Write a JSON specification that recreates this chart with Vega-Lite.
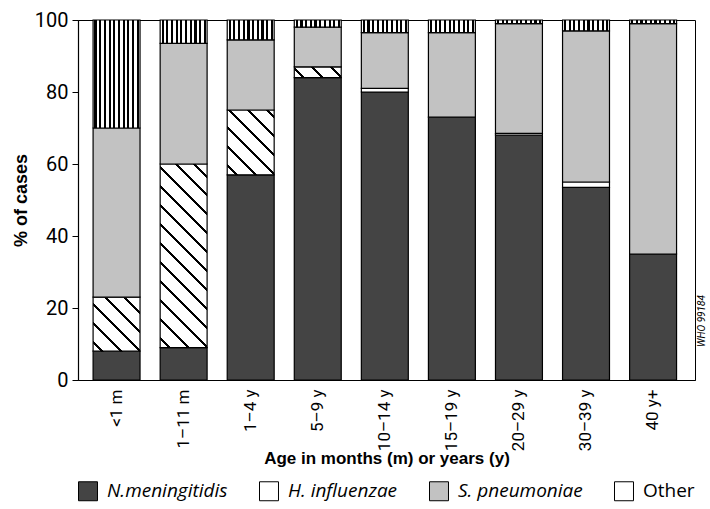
{
  "$schema": "https://vega.github.io/schema/vega-lite/v6.json",
  "width": 617,
  "height": 360,
  "padding": {"left": 12, "top": 10, "right": 5, "bottom": 5},
  "background": "white",
  "config": {
    "view": {"stroke": "black", "strokeWidth": 1},
    "font": "Liberation Sans"
  },
  "title": {
    "text": "WHO 99184",
    "orient": "right",
    "anchor": "end",
    "align": "left",
    "angle": -90,
    "dx": 33,
    "frame": "group",
    "offset": -8,
    "font": "Roboto",
    "fontSize": 10,
    "fontStyle": "italic",
    "fontWeight": "normal",
    "color": "black"
  },
  "data": {
    "values": [
      {"age": "<1 m", "pathogen": "N.meningitidis", "k": 1, "pct": 8},
      {"age": "<1 m", "pathogen": "H. influenzae", "k": 2, "pct": 15},
      {"age": "<1 m", "pathogen": "S. pneumoniae", "k": 3, "pct": 47},
      {"age": "<1 m", "pathogen": "Other", "k": 4, "pct": 30},
      {"age": "1–11 m", "pathogen": "N.meningitidis", "k": 1, "pct": 9},
      {"age": "1–11 m", "pathogen": "H. influenzae", "k": 2, "pct": 51},
      {"age": "1–11 m", "pathogen": "S. pneumoniae", "k": 3, "pct": 33.5},
      {"age": "1–11 m", "pathogen": "Other", "k": 4, "pct": 6.5},
      {"age": "1–4 y", "pathogen": "N.meningitidis", "k": 1, "pct": 57},
      {"age": "1–4 y", "pathogen": "H. influenzae", "k": 2, "pct": 18},
      {"age": "1–4 y", "pathogen": "S. pneumoniae", "k": 3, "pct": 19.5},
      {"age": "1–4 y", "pathogen": "Other", "k": 4, "pct": 5.5},
      {"age": "5–9 y", "pathogen": "N.meningitidis", "k": 1, "pct": 84},
      {"age": "5–9 y", "pathogen": "H. influenzae", "k": 2, "pct": 3},
      {"age": "5–9 y", "pathogen": "S. pneumoniae", "k": 3, "pct": 11},
      {"age": "5–9 y", "pathogen": "Other", "k": 4, "pct": 2},
      {"age": "10–14 y", "pathogen": "N.meningitidis", "k": 1, "pct": 80},
      {"age": "10–14 y", "pathogen": "H. influenzae", "k": 2, "pct": 1},
      {"age": "10–14 y", "pathogen": "S. pneumoniae", "k": 3, "pct": 15.5},
      {"age": "10–14 y", "pathogen": "Other", "k": 4, "pct": 3.5},
      {"age": "15–19 y", "pathogen": "N.meningitidis", "k": 1, "pct": 73},
      {"age": "15–19 y", "pathogen": "S. pneumoniae", "k": 3, "pct": 23.5},
      {"age": "15–19 y", "pathogen": "Other", "k": 4, "pct": 3.5},
      {"age": "20–29 y", "pathogen": "N.meningitidis", "k": 1, "pct": 68},
      {"age": "20–29 y", "pathogen": "H. influenzae", "k": 2, "pct": 0.5},
      {"age": "20–29 y", "pathogen": "S. pneumoniae", "k": 3, "pct": 30.5},
      {"age": "20–29 y", "pathogen": "Other", "k": 4, "pct": 1},
      {"age": "30–39 y", "pathogen": "N.meningitidis", "k": 1, "pct": 53.5},
      {"age": "30–39 y", "pathogen": "H. influenzae", "k": 2, "pct": 1.5},
      {"age": "30–39 y", "pathogen": "S. pneumoniae", "k": 3, "pct": 42},
      {"age": "30–39 y", "pathogen": "Other", "k": 4, "pct": 3},
      {"age": "40 y+", "pathogen": "N.meningitidis", "k": 1, "pct": 35},
      {"age": "40 y+", "pathogen": "S. pneumoniae", "k": 3, "pct": 64},
      {"age": "40 y+", "pathogen": "Other", "k": 4, "pct": 1}
    ]
  },
  "mark": {"type": "bar", "stroke": "black", "strokeWidth": 1.2},
  "encoding": {
    "x": {
      "field": "age",
      "type": "nominal",
      "sort": ["<1 m", "1–11 m", "1–4 y", "5–9 y", "10–14 y", "15–19 y", "20–29 y", "30–39 y", "40 y+"],
      "scale": {"paddingInner": 0.3, "paddingOuter": 0.25, "align": 0.45},
      "axis": {
        "title": "Age in months (m) or years (y)",
        "titleFont": "Liberation Sans",
        "titleFontSize": 17,
        "titleFontWeight": "bold",
        "titleColor": "black",
        "titlePadding": 0,
        "labelAngle": -90,
        "labelAlign": "right",
        "labelBaseline": "middle",
        "labelFont": "Roboto",
        "labelFontSize": 17,
        "labelColor": "black",
        "labelPadding": 9,
        "ticks": false,
        "domainColor": "black",
        "domainWidth": 1.2
      }
    },
    "y": {
      "field": "pct",
      "type": "quantitative",
      "stack": "zero",
      "scale": {"domain": [0, 100], "nice": false},
      "axis": {
        "title": "% of cases",
        "titleFont": "Liberation Sans",
        "titleFontSize": 18,
        "titleFontWeight": "bold",
        "titleColor": "black",
        "values": [0, 20, 40, 60, 80, 100],
        "grid": false,
        "labelFont": "Roboto",
        "labelFontSize": 20,
        "labelColor": "black",
        "labelPadding": 4,
        "tickSize": 6,
        "tickColor": "black",
        "domainColor": "black",
        "domainWidth": 1.2
      }
    },
    "order": {"field": "k", "type": "quantitative"},
    "fill": {
      "field": "pathogen",
      "type": "nominal",
      "scale": {
        "domain": ["N.meningitidis", "H. influenzae", "S. pneumoniae", "Other"],
        "range": ["#444444", "white", "#c2c2c2", "white"]
      },
      "legend": {
        "title": null,
        "orient": "bottom",
        "direction": "horizontal",
        "symbolType": "square",
        "symbolSize": 360,
        "symbolStrokeColor": "black",
        "symbolStrokeWidth": 1,
        "labelFont": "Open Sans",
        "labelFontSize": 19,
        "labelColor": "black",
        "labelOffset": 9,
        "columnPadding": 29,
        "offset": 14,
        "encode": {
          "labels": {
            "update": {
              "fontStyle": {"signal": "datum.value === 'Other' ? 'normal' : 'italic'"}
            }
          }
        }
      },
      "condition": [
        {"test": "datum.pathogen === 'Other'", "value": {"gradient": "linear", "x1": 0, "y1": 0, "x2": 1, "y2": 0, "stops": [
          {"offset": 0, "color": "white"},
          {"offset": 0.03, "color": "white"}, {"offset": 0.03, "color": "black"}, {"offset": 0.075, "color": "black"}, {"offset": 0.075, "color": "white"},
          {"offset": 0.13, "color": "white"}, {"offset": 0.13, "color": "black"}, {"offset": 0.175, "color": "black"}, {"offset": 0.175, "color": "white"},
          {"offset": 0.23, "color": "white"}, {"offset": 0.23, "color": "black"}, {"offset": 0.275, "color": "black"}, {"offset": 0.275, "color": "white"},
          {"offset": 0.33, "color": "white"}, {"offset": 0.33, "color": "black"}, {"offset": 0.375, "color": "black"}, {"offset": 0.375, "color": "white"},
          {"offset": 0.43, "color": "white"}, {"offset": 0.43, "color": "black"}, {"offset": 0.475, "color": "black"}, {"offset": 0.475, "color": "white"},
          {"offset": 0.53, "color": "white"}, {"offset": 0.53, "color": "black"}, {"offset": 0.575, "color": "black"}, {"offset": 0.575, "color": "white"},
          {"offset": 0.63, "color": "white"}, {"offset": 0.63, "color": "black"}, {"offset": 0.675, "color": "black"}, {"offset": 0.675, "color": "white"},
          {"offset": 0.73, "color": "white"}, {"offset": 0.73, "color": "black"}, {"offset": 0.775, "color": "black"}, {"offset": 0.775, "color": "white"},
          {"offset": 0.83, "color": "white"}, {"offset": 0.83, "color": "black"}, {"offset": 0.875, "color": "black"}, {"offset": 0.875, "color": "white"},
          {"offset": 0.93, "color": "white"}, {"offset": 0.93, "color": "black"}, {"offset": 0.975, "color": "black"}, {"offset": 0.975, "color": "white"},
          {"offset": 1, "color": "white"}
        ]}},
        {"test": "datum.pathogen === 'H. influenzae' && datum.age === '<1 m'", "value": {"gradient": "linear", "x1": 0, "y1": 1, "x2": 0.9263, "y2": -0.0643, "stops": [
          {"offset": 0, "color": "white"},
          {"offset": 0.080, "color": "white"}, {"offset": 0.080, "color": "black"}, {"offset": 0.108, "color": "black"}, {"offset": 0.108, "color": "white"},
          {"offset": 0.267, "color": "white"}, {"offset": 0.267, "color": "black"}, {"offset": 0.295, "color": "black"}, {"offset": 0.295, "color": "white"},
          {"offset": 0.455, "color": "white"}, {"offset": 0.455, "color": "black"}, {"offset": 0.483, "color": "black"}, {"offset": 0.483, "color": "white"},
          {"offset": 0.643, "color": "white"}, {"offset": 0.643, "color": "black"}, {"offset": 0.671, "color": "black"}, {"offset": 0.671, "color": "white"},
          {"offset": 0.831, "color": "white"}, {"offset": 0.831, "color": "black"}, {"offset": 0.859, "color": "black"}, {"offset": 0.859, "color": "white"},
          {"offset": 1, "color": "white"}
        ]}},
        {"test": "datum.pathogen === 'H. influenzae' && datum.age === '1–11 m'", "value": {"gradient": "linear", "x1": 0, "y1": 1, "x2": 0.3017, "y2": -0.1786, "stops": [
          {"offset": 0, "color": "white"},
          {"offset": 0.0352, "color": "white"}, {"offset": 0.0352, "color": "black"}, {"offset": 0.0482, "color": "black"}, {"offset": 0.0482, "color": "white"},
          {"offset": 0.1173, "color": "white"}, {"offset": 0.1173, "color": "black"}, {"offset": 0.1303, "color": "black"}, {"offset": 0.1303, "color": "white"},
          {"offset": 0.1995, "color": "white"}, {"offset": 0.1995, "color": "black"}, {"offset": 0.2125, "color": "black"}, {"offset": 0.2125, "color": "white"},
          {"offset": 0.2817, "color": "white"}, {"offset": 0.2817, "color": "black"}, {"offset": 0.2947, "color": "black"}, {"offset": 0.2947, "color": "white"},
          {"offset": 0.3638, "color": "white"}, {"offset": 0.3638, "color": "black"}, {"offset": 0.3768, "color": "black"}, {"offset": 0.3768, "color": "white"},
          {"offset": 0.4460, "color": "white"}, {"offset": 0.4460, "color": "black"}, {"offset": 0.4590, "color": "black"}, {"offset": 0.4590, "color": "white"},
          {"offset": 0.5281, "color": "white"}, {"offset": 0.5281, "color": "black"}, {"offset": 0.5411, "color": "black"}, {"offset": 0.5411, "color": "white"},
          {"offset": 0.6103, "color": "white"}, {"offset": 0.6103, "color": "black"}, {"offset": 0.6233, "color": "black"}, {"offset": 0.6233, "color": "white"},
          {"offset": 0.6925, "color": "white"}, {"offset": 0.6925, "color": "black"}, {"offset": 0.7055, "color": "black"}, {"offset": 0.7055, "color": "white"},
          {"offset": 0.7746, "color": "white"}, {"offset": 0.7746, "color": "black"}, {"offset": 0.7876, "color": "black"}, {"offset": 0.7876, "color": "white"},
          {"offset": 0.8568, "color": "white"}, {"offset": 0.8568, "color": "black"}, {"offset": 0.8698, "color": "black"}, {"offset": 0.8698, "color": "white"},
          {"offset": 0.9389, "color": "white"}, {"offset": 0.9389, "color": "black"}, {"offset": 0.9519, "color": "black"}, {"offset": 0.9519, "color": "white"},
          {"offset": 1, "color": "white"}
        ]}},
        {"test": "datum.pathogen === 'H. influenzae' && datum.age === '1–4 y'", "value": {"gradient": "linear", "x1": 0, "y1": 1, "x2": 0.8201, "y2": -0.1309, "stops": [
          {"offset": 0, "color": "white"},
          {"offset": 0.0721, "color": "white"}, {"offset": 0.0721, "color": "black"}, {"offset": 0.0973, "color": "black"}, {"offset": 0.0973, "color": "white"},
          {"offset": 0.2416, "color": "white"}, {"offset": 0.2416, "color": "black"}, {"offset": 0.2668, "color": "black"}, {"offset": 0.2668, "color": "white"},
          {"offset": 0.4111, "color": "white"}, {"offset": 0.4111, "color": "black"}, {"offset": 0.4363, "color": "black"}, {"offset": 0.4363, "color": "white"},
          {"offset": 0.5806, "color": "white"}, {"offset": 0.5806, "color": "black"}, {"offset": 0.6058, "color": "black"}, {"offset": 0.6058, "color": "white"},
          {"offset": 0.7501, "color": "white"}, {"offset": 0.7501, "color": "black"}, {"offset": 0.7753, "color": "black"}, {"offset": 0.7753, "color": "white"},
          {"offset": 0.9196, "color": "white"}, {"offset": 0.9196, "color": "black"}, {"offset": 0.9448, "color": "black"}, {"offset": 0.9448, "color": "white"},
          {"offset": 1, "color": "white"}
        ]}},
        {"test": "datum.pathogen === 'H. influenzae' && datum.age === '5–9 y'", "value": {"gradient": "linear", "x1": 0, "y1": 1, "x2": 1.168, "y2": 0.7316, "stops": [
          {"offset": 0, "color": "white"},
          {"offset": 0.1395, "color": "white"}, {"offset": 0.1395, "color": "black"}, {"offset": 0.1885, "color": "black"}, {"offset": 0.1885, "color": "white"},
          {"offset": 0.4675, "color": "white"}, {"offset": 0.4675, "color": "black"}, {"offset": 0.5165, "color": "black"}, {"offset": 0.5165, "color": "white"},
          {"offset": 0.7955, "color": "white"}, {"offset": 0.7955, "color": "black"}, {"offset": 0.8445, "color": "black"}, {"offset": 0.8445, "color": "white"},
          {"offset": 1, "color": "white"}
        ]}}
      ]
    }
  }
}
